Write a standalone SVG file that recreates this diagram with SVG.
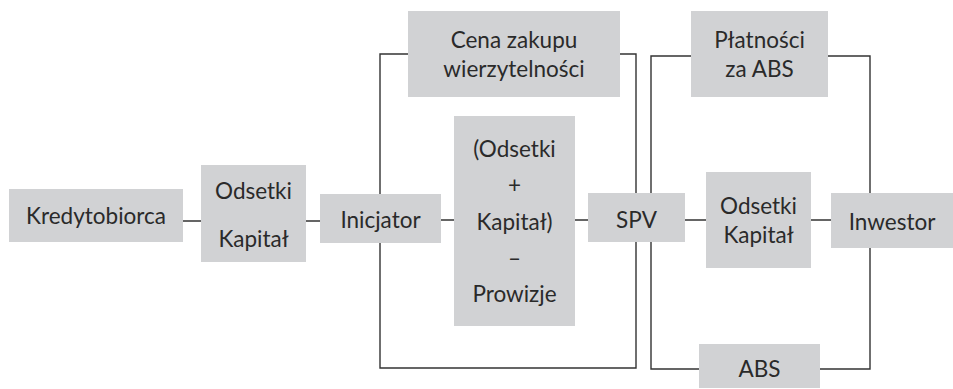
<svg xmlns="http://www.w3.org/2000/svg" width="953" height="389" viewBox="0 0 953 389">
<style>
.box{fill:#d1d2d4;stroke:none}
.t{font-family:Lato,"Liberation Sans",sans-serif;font-size:22.5px;fill:#2a2a2a;text-anchor:middle}
.c{fill:none;stroke:#333;stroke-width:1.4}
</style>
<rect width="953" height="389" fill="#fff"/>
<g id="connectors">
<path class="c" d="M183 221H201M306 221H320M441 220H454M575 220H588M685 220H706M811 220H831"/>
<path class="c" d="M408 54H380V368H636V54H620"/>
<path class="c" d="M691 56H651V369H699M820 369H870V56H828"/>
</g>
<g id="kredytobiorca"><rect class="box" x="9" y="189" width="174" height="53"/><text class="t" x="96" y="224">Kredytobiorca</text></g>
<g id="odsetki1"><rect class="box" x="201" y="165" width="105" height="97"/><text class="t" x="253.5" y="199">Odsetki</text><text class="t" x="253.5" y="247">Kapitał</text></g>
<g id="inicjator"><rect class="box" x="320" y="194" width="121" height="49"/><text class="t" x="380.5" y="228">Inicjator</text></g>
<g id="cena"><rect class="box" x="408" y="11" width="212" height="86"/><text class="t" x="514" y="48">Cena zakupu</text><text class="t" x="514" y="77">wierzytelności</text></g>
<g id="srodek"><rect class="box" x="454" y="116" width="121" height="210"/><text class="t" x="514.5" y="157">(Odsetki</text><text class="t" x="514.5" y="193">+</text><text class="t" x="514.5" y="230">Kapitał)</text><text class="t" x="514.5" y="266">–</text><text class="t" x="514.5" y="302">Prowizje</text></g>
<g id="spv"><rect class="box" x="588" y="193" width="97" height="49"/><text class="t" x="636.5" y="228">SPV</text></g>
<g id="platnosci"><rect class="box" x="691" y="11" width="137" height="86"/><text class="t" x="759.5" y="48">Płatności</text><text class="t" x="759.5" y="77">za ABS</text></g>
<g id="odsetki2"><rect class="box" x="706" y="172" width="105" height="96"/><text class="t" x="758.5" y="214">Odsetki</text><text class="t" x="758.5" y="243">Kapitał</text></g>
<g id="inwestor"><rect class="box" x="831" y="193" width="122" height="55"/><text class="t" x="892" y="230">Inwestor</text></g>
<g id="abs"><rect class="box" x="699" y="344" width="121" height="44"/><text class="t" x="759.5" y="377">ABS</text></g>
</svg>
